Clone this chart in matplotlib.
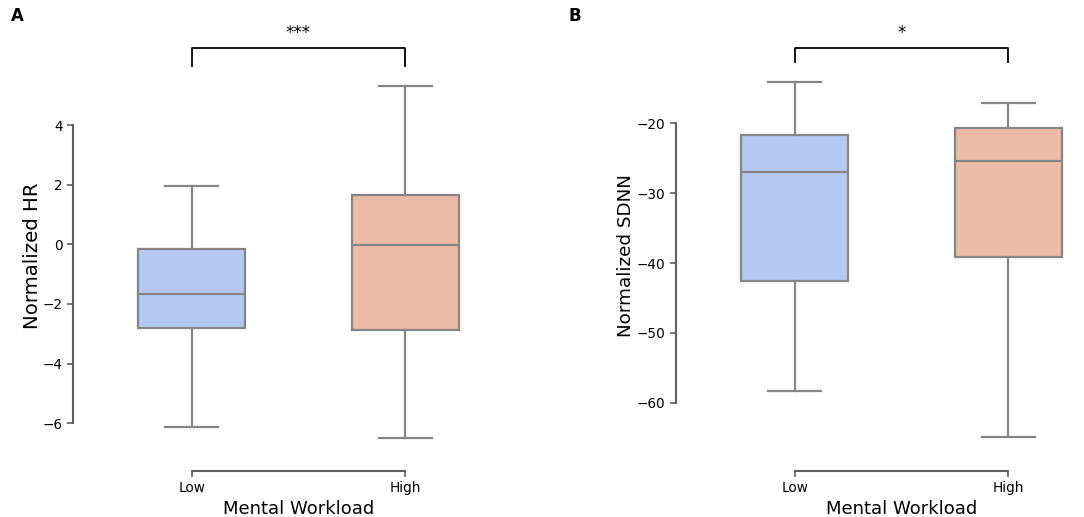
import matplotlib.pyplot as plt
from matplotlib.transforms import blended_transform_factory

# Box statistics (Low, High)
groups = ["Low", "High"]
box_colors = ["#b4c9f2", "#ecbba6"]

hr_whislo = [-6.12, -6.50]
hr_q1 = [-2.79, -2.86]
hr_med = [-1.68, -0.02]
hr_q3 = [-0.16, 1.65]
hr_whishi = [1.97, 5.32]
hr_ticks = [-6, -4, -2, 0, 2, 4]

sdnn_whislo = [-58.3, -65.0]
sdnn_q1 = [-42.6, -39.1]
sdnn_med = [-26.9, -25.4]
sdnn_q3 = [-21.7, -20.7]
sdnn_whishi = [-14.1, -17.1]
sdnn_ticks = [-60, -50, -40, -30, -20]

W, H = 1084, 517
LINE = "#858585"
SPINE = "#606060"


def make_stats(whislo, q1, med, q3, whishi):
    """Build the dicts that Axes.bxp wants"""
    stats = []
    for i in range(len(med)):
        stats.append({"whislo": whislo[i], "q1": q1[i], "med": med[i],
                      "q3": q3[i], "whishi": whishi[i], "fliers": []})
    return stats


def draw_panel(fig, left_px, ylim, stats, ticks, ylabel, ylabel_size,
               ylabel_pad, letter, letter_px, stars, bracket_low):
    ax = fig.add_axes([left_px / W, (H - 471) / H, 451 / W, 431 / H])
    bp = ax.bxp(stats, positions=[0, 1], widths=0.5, capwidths=0.25,
                patch_artist=True, showfliers=False,
                boxprops=dict(edgecolor=LINE, linewidth=1.6),
                medianprops=dict(color=LINE, linewidth=1.6),
                whiskerprops=dict(color=LINE, linewidth=1.6),
                capprops=dict(color=LINE, linewidth=1.6))
    for patch, c in zip(bp["boxes"], box_colors):
        patch.set_facecolor(c)

    ax.set_xlim(-0.556, 1.556)
    ax.set_ylim(*ylim)
    ax.set_xticks([0, 1])
    ax.set_xticklabels(groups)
    ax.set_yticks(ticks)
    ax.set_yticklabels([str(t).replace("-", "\u2212") for t in ticks])
    ax.tick_params(labelsize=9.8, length=4, width=1.2, color=SPINE)

    for side in ["top", "right"]:
        ax.spines[side].set_visible(False)
    ax.spines["left"].set_bounds(ticks[0], ticks[-1])
    ax.spines["bottom"].set_bounds(0, 1)
    for side in ["left", "bottom"]:
        ax.spines[side].set_color(SPINE)
        ax.spines[side].set_linewidth(1.5)

    ax.set_xlabel("Mental Workload", fontsize=13, labelpad=3)
    ax.set_ylabel(ylabel, fontsize=ylabel_size, labelpad=ylabel_pad)

    # significance bracket above the boxes
    tr = blended_transform_factory(ax.transData, ax.transAxes)
    ax.plot([0, 0, 1, 1], [bracket_low, 0.981, 0.981, bracket_low],
            color="black", linewidth=1.3, transform=tr, clip_on=False)
    ax.text(0.5, 1.017, stars, transform=tr, ha="center", va="center",
            fontsize=12)

    fig.text(letter_px / W, 1 - 16 / H, letter, fontweight="bold",
             fontsize=12, ha="left", va="center")
    return ax


fig = plt.figure(figsize=(W / 100, H / 100), dpi=100)

ax1 = draw_panel(fig, 73, (-7.6, 6.85),
                 make_stats(hr_whislo, hr_q1, hr_med, hr_q3, hr_whishi),
                 hr_ticks, "Normalized HR", 14.2, 0.5, "A", 11, "***", 0.94)
ax2 = draw_panel(fig, 676, (-69.8, -8.05),
                 make_stats(sdnn_whislo, sdnn_q1, sdnn_med, sdnn_q3, sdnn_whishi),
                 sdnn_ticks, "Normalized SDNN", 13.2, 1.5, "B", 569, "*", 0.949)

plt.savefig("out.png", dpi=100)
